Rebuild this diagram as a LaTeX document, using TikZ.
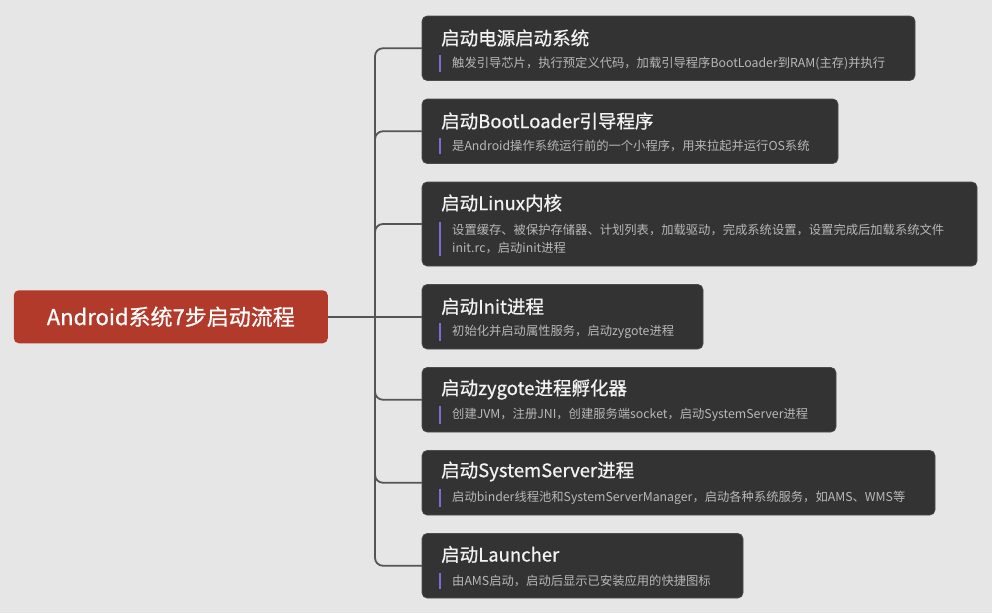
\documentclass[tikz,border=0pt]{standalone}
\usepackage{fontspec}
\setmainfont{Noto Sans CJK SC}
\newfontfamily\titlefont{Noto Sans CJK SC}[FakeBold=0.7]
\usetikzlibrary{positioning,calc}
\definecolor{bggray}{HTML}{E6E6E6}
\definecolor{rootred}{HTML}{B23A2B}
\definecolor{boxdark}{HTML}{333333}
\definecolor{boxedge}{HTML}{4C4C4C}
\definecolor{linkgray}{HTML}{555555}
\definecolor{descgray}{HTML}{B8B8B8}
\definecolor{barpurple}{HTML}{7C6DD3}
\begin{document}
\begin{tikzpicture}[x=1pt,y=-1pt,
		rootbox/.style={rectangle,rounded corners=5pt,fill=rootred,text=white,
			minimum width=314pt,minimum height=53pt,font=\titlefont\fontsize{22}{26}\selectfont},
		stepbox/.style={rectangle,rounded corners=5pt,fill=boxdark,draw=boxedge,line width=0.6pt,
			minimum height=64.5pt,inner sep=0pt,outer sep=0pt},
		steptitle/.style={anchor=west,inner sep=0pt,text=white!95!black,font=\titlefont\fontsize{18.5}{22}\selectfont},
		stepdesc/.style={anchor=west,inner xsep=0pt,inner ysep=2pt,align=left,text=descgray,
			font=\fontsize{12.3}{18}\selectfont},
		link/.style={draw=linkgray,line width=1.8pt,rounded corners=8pt},
		accent/.style={draw=barpurple,line width=2.5pt}
		]
		\fill[bggray] (0,0) rectangle (992,613);
		\useasboundingbox (0,0) rectangle (992,613);
		
		\node[stepbox, minimum width=493pt, anchor=north west](B1) at (422,16){};
		\node[stepbox, minimum width=416pt, below right=18.5pt and 0pt of B1.south west](B2){};
		\node[stepbox, minimum width=555pt, minimum height=84pt, below right=18.5pt and 0pt of B2.south west](B3){};
		\node[stepbox, minimum width=281pt, below right=18.5pt and 0pt of B3.south west](B4){};
		\node[stepbox, minimum width=414pt, below right=18.5pt and 0pt of B4.south west](B5){};
		\node[stepbox, minimum width=513pt, below right=18.5pt and 0pt of B5.south west](B6){};
		\node[stepbox, minimum width=321pt, below right=18.5pt and 0pt of B6.south west](B7){};
		
		\node[rootbox, left=94pt of B4.west](R){Android系统7步启动流程};
		\coordinate (J) at ($(R.east)!.5!(B4.west)$);
		
		% titles
		\node[steptitle](T1) at ([shift={(19pt,-22pt)}]B1.north west){启动电源启动系统};
		\node[steptitle](T2) at ([shift={(19pt,-22pt)}]B2.north west){启动BootLoader引导程序};
		\node[steptitle](T3) at ([shift={(19pt,-21pt)}]B3.north west){启动Linux内核};
		\node[steptitle](T4) at ([shift={(19pt,-22pt)}]B4.north west){启动Init进程};
		\node[steptitle](T5) at ([shift={(19pt,-22pt)}]B5.north west){启动zygote进程孵化器};
		\node[steptitle](T6) at ([shift={(19pt,-21pt)}]B6.north west){启动SystemServer进程};
		\node[steptitle](T7) at ([shift={(19pt,-21pt)}]B7.north west){启动Launcher};
		
		% descriptions
		\node[stepdesc](D1) at ([shift={(30pt,-15pt)}]B1.west){触发引导芯片，执行预定义代码，加载引导程序BootLoader到RAM(主存)并执行};
		\node[stepdesc](D2) at ([shift={(30pt,-15pt)}]B2.west){是Android操作系统运行前的一个小程序，用来拉起并运行OS系统};
		\node[stepdesc](D3) at ([shift={(30pt,-15pt)}]B3.west){设置缓存、被保护存储器、计划列表，加载驱动，完成系统设置，设置完成后加载系统文件\\init.rc，启动init进程};
		\node[stepdesc](D4) at ([shift={(30pt,-15pt)}]B4.west){初始化并启动属性服务，启动zygote进程};
		\node[stepdesc](D5) at ([shift={(30pt,-15pt)}]B5.west){创建JVM，注册JNI，创建服务端socket，启动SystemServer进程};
		\node[stepdesc](D6) at ([shift={(30pt,-15pt)}]B6.west){启动binder线程池和SystemServerManager，启动各种系统服务，如AMS、WMS等};
		\node[stepdesc](D7) at ([shift={(30pt,-15pt)}]B7.west){由AMS启动，启动后显示已安装应用的快捷图标};
		
		\draw[accent] ([xshift=-12pt]D1.north west) -- ([xshift=-12pt]D1.south west);
		\draw[accent] ([xshift=-12pt]D2.north west) -- ([xshift=-12pt]D2.south west);
		\draw[accent] ([xshift=-12pt]D3.north west) -- ([xshift=-12pt]D3.south west);
		\draw[accent] ([xshift=-12pt]D4.north west) -- ([xshift=-12pt]D4.south west);
		\draw[accent] ([xshift=-12pt]D5.north west) -- ([xshift=-12pt]D5.south west);
		\draw[accent] ([xshift=-12pt]D6.north west) -- ([xshift=-12pt]D6.south west);
		\draw[accent] ([xshift=-12pt]D7.north west) -- ([xshift=-12pt]D7.south west);
		
		% connectors
		\draw[link] (R.east) -- (B4.west);
		\draw[link] (J) |- (B1.west);
		\draw[link] (J) |- (B2.west);
		\draw[link] (J) |- (B3.west);
		\draw[link] (J) |- (B5.west);
		\draw[link] (J) |- (B6.west);
		\draw[link] (J) |- (B7.west);
	\end{tikzpicture}
\end{document}
